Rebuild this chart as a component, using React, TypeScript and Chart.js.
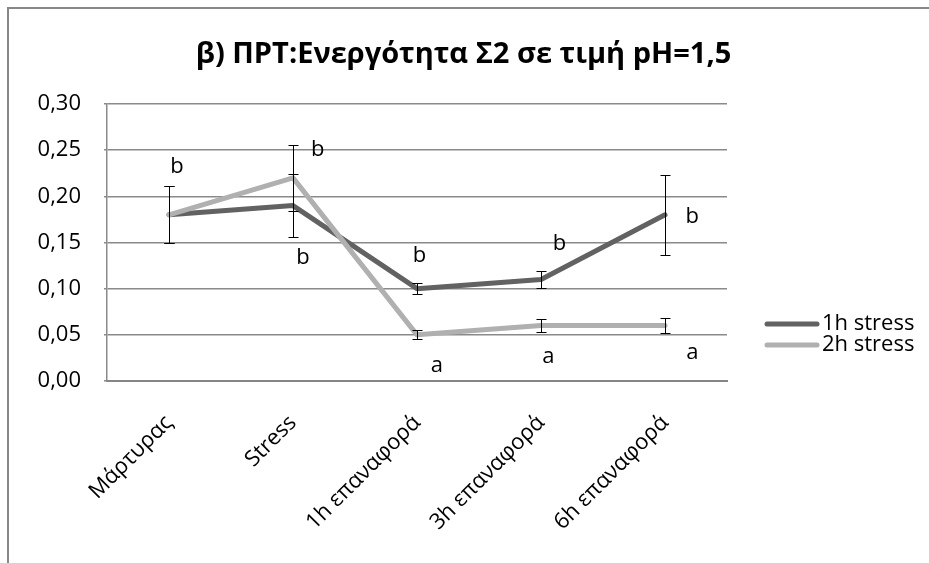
import React, { useEffect, useRef } from "react";
import { Chart, registerables } from "chart.js";

Chart.register(...registerables);

const TITLE = "β) ΠΡΤ:Ενεργότητα Σ2 σε τιμή pH=1,5";
const categories = ["Μάρτυρας", "Stress", "1h επαναφορά", "3h επαναφορά", "6h επαναφορά"];
const seriesNames = ["1h stress", "2h stress"];
const values1h = [0.18, 0.19, 0.10, 0.11, 0.18];
const values2h = [0.18, 0.22, 0.05, 0.06, 0.06];
const errors1h = [0.031, 0.034, 0.006, 0.009, 0.043];
const errors2h = [0.031, 0.036, 0.005, 0.007, 0.008];
const yMin = 0;
const yMax = 0.3;
const yStep = 0.05;
// significance letters: text, category position (index + fraction), value
const letterTexts = ["b", "b", "b", "b", "a", "b", "a", "b", "a"];
const letterCats = [0.065, 1.2, 1.08, 2.02, 2.16, 3.15, 3.06, 4.22, 4.22];
const letterValues = [0.232, 0.251, 0.134, 0.136, 0.016, 0.149, 0.026, 0.178, 0.031];

const FONT = "'Open Sans', 'Noto Sans', sans-serif";
const COLORS = ["#626262", "#b0b0b0"];

const overlayPlugin = {
  id: "overlay",
  afterDatasetsDraw(chart: any) {
    const ctx = chart.ctx;
    const xs = chart.scales.x;
    const ys = chart.scales.y;
    ctx.save();
    // error bars
    const errs = [errors1h, errors2h];
    chart.data.datasets.forEach((ds: any, di: number) => {
      ds.data.forEach((v: number, i: number) => {
        const e = errs[di][i];
        const x = Math.round(xs.getPixelForValue(i)) + 0.5;
        const yt = Math.round(ys.getPixelForValue(v + e)) + 0.5;
        const yb = Math.round(ys.getPixelForValue(v - e)) + 0.5;
        ctx.strokeStyle = "#000";
        ctx.lineWidth = 1;
        ctx.beginPath();
        ctx.moveTo(x, yt);
        ctx.lineTo(x, yb);
        ctx.moveTo(x - 5, yt);
        ctx.lineTo(x + 5, yt);
        ctx.moveTo(x - 5, yb);
        ctx.lineTo(x + 5, yb);
        ctx.stroke();
      });
    });
    // letters
    ctx.fillStyle = "#000";
    ctx.font = `22px ${FONT}`;
    ctx.textAlign = "center";
    ctx.textBaseline = "middle";
    letterTexts.forEach((t, i) => {
      ctx.fillText(t, xs.getPixelForValue(letterCats[i]), ys.getPixelForValue(letterValues[i]));
    });
    ctx.restore();
  },
  afterDraw(chart: any) {
    const ctx = chart.ctx;
    const area = chart.chartArea;
    ctx.save();
    // title
    ctx.fillStyle = "#000";
    ctx.font = `bold 29px ${FONT}`;
    ctx.textAlign = "center";
    ctx.textBaseline = "alphabetic";
    ctx.fillText(TITLE, chart.width / 2 - 1, 63);
    // legend
    ctx.font = `22px ${FONT}`;
    ctx.textAlign = "left";
    ctx.textBaseline = "middle";
    chart.data.datasets.forEach((ds: any, i: number) => {
      const y = 324 + i * 21;
      ctx.strokeStyle = ds.borderColor;
      ctx.lineWidth = 5;
      ctx.lineCap = "round";
      ctx.beginPath();
      ctx.moveTo(area.right + 40, y);
      ctx.lineTo(area.right + 90, y);
      ctx.stroke();
      ctx.fillStyle = "#000";
      ctx.fillText(ds.label, area.right + 95, y);
    });
    ctx.restore();
  },
};

export default function App() {
  const ref = useRef<HTMLCanvasElement>(null);
  useEffect(() => {
    if (!ref.current) return;
    const chart = new Chart(ref.current, {
      type: "line",
      data: {
        labels: categories,
        datasets: [
          {
            label: seriesNames[0],
            data: values1h,
            borderColor: COLORS[0],
            backgroundColor: COLORS[0],
            borderWidth: 5,
            pointRadius: 0,
            borderJoinStyle: "round",
            borderCapStyle: "round",
            tension: 0,
            order: 1,
          },
          {
            label: seriesNames[1],
            data: values2h,
            borderColor: COLORS[1],
            backgroundColor: COLORS[1],
            borderWidth: 5,
            pointRadius: 0,
            borderJoinStyle: "round",
            borderCapStyle: "round",
            tension: 0,
            order: 0,
          },
        ],
      },
      options: {
        responsive: false,
        animation: false,
        layout: { padding: { left: 0, top: 104, right: 202, bottom: 0 } },
        plugins: {
          legend: { display: false },
          title: { display: false },
          tooltip: { enabled: false },
        },
        scales: {
          x: {
            offset: true,
            grid: { display: false, drawTicks: false },
            border: { display: true, color: "#858585", width: 2 },
            ticks: {
              autoSkip: false,
              minRotation: 45,
              maxRotation: 45,
              padding: 29,
              labelOffset: 0,
              color: "#000",
              font: { family: FONT, size: 22 },
            },
            afterFit: (s: any) => {
              s.height = 182;
            },
          },
          y: {
            min: yMin,
            max: yMax,
            grid: { color: "#8a8a8a", lineWidth: 1.5, tickLength: 3 },
            border: { display: true, color: "#8a8a8a", width: 1.5 },
            ticks: {
              stepSize: yStep,
              padding: 23,
              color: "#000",
              font: { family: FONT, size: 22 },
              callback: (v: any) => Number(v).toFixed(2).replace(".", ","),
            },
            afterFit: (s: any) => {
              s.width = 107;
            },
          },
        },
      },
      plugins: [overlayPlugin],
    });
    return () => chart.destroy();
  }, []);
  return (
    <div style={{ position: "fixed", left: 0, top: 0, width: 929, height: 563, overflow: "hidden", background: "#fff" }}>
      <div
        style={{
          position: "absolute",
          left: 7,
          top: 7,
          width: 1000,
          height: 1000,
          borderLeft: "2px solid #878787",
          borderTop: "2px solid #878787",
        }}
      />
      <canvas ref={ref} width={929} height={563} style={{ position: "absolute", left: 0, top: 0, display: "block" }} />
    </div>
  );
}
